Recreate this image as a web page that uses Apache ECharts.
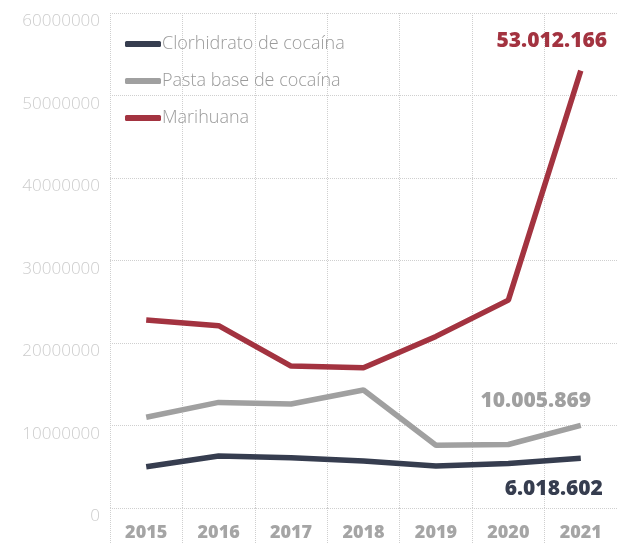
<!DOCTYPE html>
<html>
<head>
<meta charset="utf-8">
<script src="https://cdn.jsdelivr.net/npm/echarts@6/dist/echarts.min.js"></script>
<style>
  html, body { margin: 0; padding: 0; background: #fff; }
  #chart { width: 617px; height: 543px; }
</style>
</head>
<body>
<div id="chart"></div>
<script>
const years = ['2015', '2016', '2017', '2018', '2019', '2020', '2021'];
const clorhidrato = [5000000, 6300000, 6100000, 5700000, 5100000, 5400000, 6018602];
const pastaBase = [11000000, 12800000, 12600000, 14300000, 7600000, 7700000, 10005869];
const marihuana = [22800000, 22100000, 17200000, 17000000, 20800000, 25200000, 53012166];

const fontFam = "'Open Sans', 'Noto Sans', sans-serif";

function fmt(v) {
  return String(v).replace(/\B(?=(\d{3})+(?!\d))/g, '.');
}

// only the last point of each line gets its value label
function withEndLabel(values, color, offset) {
  return values.map(function (v, i) {
    if (i !== values.length - 1) return v;
    return {
      value: v,
      label: {
        show: true,
        position: 'inside',
        offset: offset,
        formatter: function (p) { return fmt(p.value); },
        color: color,
        fontFamily: fontFam,
        fontWeight: 800,
        fontSize: 21
      }
    };
  });
}

function lineSeries(name, values, color, offset) {
  return {
    name: name,
    type: 'line',
    data: withEndLabel(values, color, offset),
    symbol: 'circle',
    symbolSize: 0,
    showSymbol: true,
    lineStyle: { color: color, width: 5.5 },
    itemStyle: { color: color },
    emphasis: { disabled: true }
  };
}

const chart = echarts.init(document.getElementById('chart'));
chart.setOption({
  animation: false,
  grid: { left: 110, top: 13, bottom: 35, right: -4, containLabel: false },
  legend: {
    orient: 'vertical',
    left: 120,
    top: 30,
    itemGap: 19,
    itemWidth: 36,
    itemHeight: 6,
    icon: 'roundRect',
    textStyle: { color: '#9a9a9a', fontSize: 18, fontFamily: fontFam, fontWeight: 300, padding: [0, 0, 0, -4] },
    data: ['Clorhidrato de cocaína', 'Pasta base de cocaína', 'Marihuana']
  },
  xAxis: {
    type: 'category',
    data: years,
    boundaryGap: true,
    axisLine: { show: false },
    axisTick: { show: true, length: 36, lineStyle: { color: '#cfcfcf', type: 'dotted' } },
    axisLabel: { color: '#a5a5a5', fontSize: 18, fontWeight: 800, fontFamily: fontFam, margin: 16 },
    splitLine: { show: true, lineStyle: { color: '#cfcfcf', type: 'dotted' } }
  },
  yAxis: {
    type: 'value',
    min: 0,
    max: 60000000,
    interval: 10000000,
    axisLine: { show: false },
    axisTick: { show: false },
    axisLabel: {
      color: '#cccccc', fontSize: 17, fontFamily: fontFam, fontWeight: 300, margin: 10, verticalAlign: 'top',
      formatter: function (v) { return String(v); }
    },
    splitLine: { lineStyle: { color: '#cfcfcf', type: 'dotted' } }
  },
  series: [
    lineSeries('Clorhidrato de cocaína', clorhidrato, '#363d4f', [-27, 31]),
    lineSeries('Pasta base de cocaína', pastaBase, '#a0a0a0', [-45, -24]),
    lineSeries('Marihuana', marihuana, '#a33340', [-29, -30])
  ]
});
</script>
</body>
</html>
